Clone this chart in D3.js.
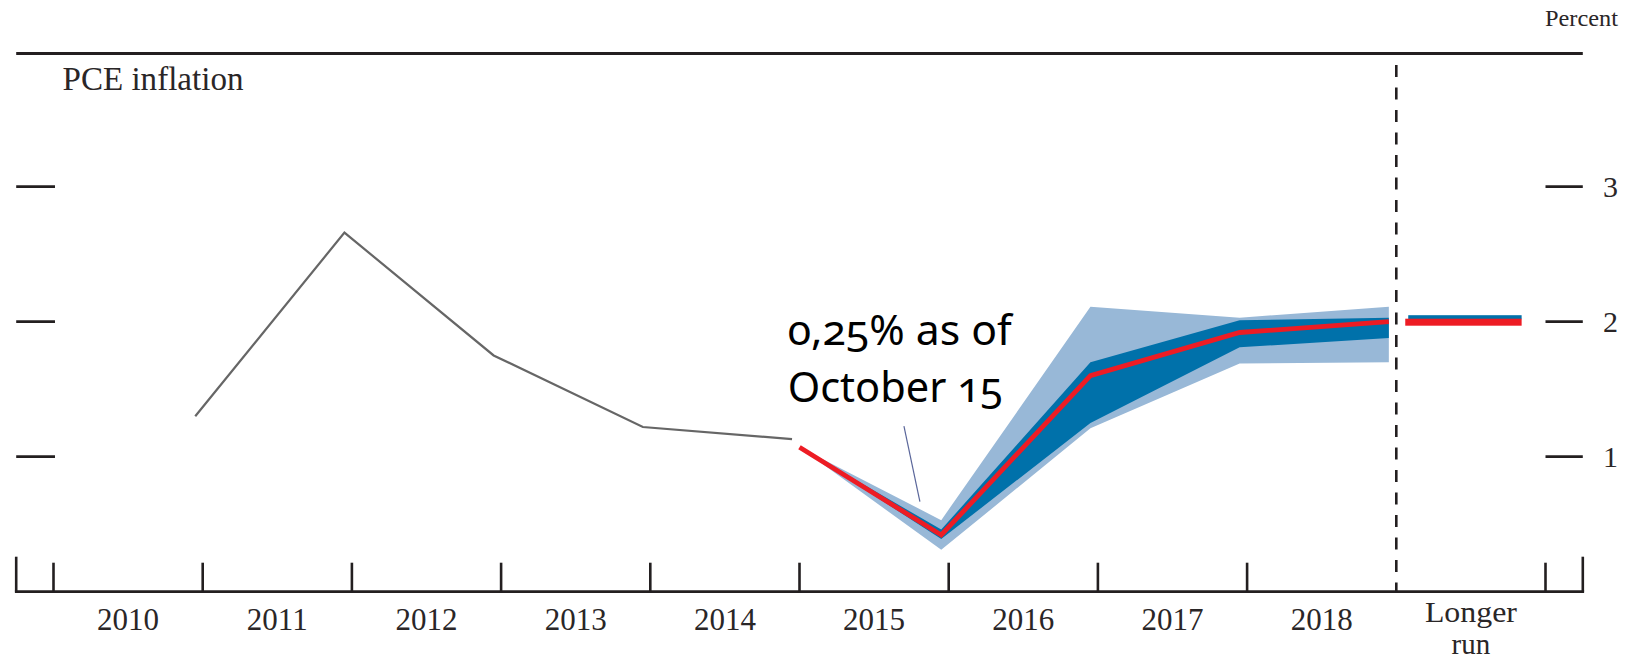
<!DOCTYPE html>
<meta charset="utf-8">
<style>
body { margin: 0; background: #fff; }
svg { display: block; }
.serif { font-family: "Liberation Serif", "DejaVu Serif", serif; fill: #2a2627; }
.note { font-family: "Noto Sans", "Open Sans", sans-serif; fill: #000; font-variant-numeric: oldstyle-nums; }
</style>
<body>
<svg width="1626" height="661"></svg>
</body>
<script src="https://cdn.jsdelivr.net/npm/d3@7"></script>
<script>

// history (Q4/Q4 PCE inflation), black line
var histYears = [2010, 2011, 2012, 2013, 2014];
var histValues = [1.30, 2.66, 1.75, 1.22, 1.13];

// projections: median, central tendency, range
var projYears = [2015, 2016, 2017, 2018];
var projStart = 1.07;          // value where the projection path starts (start of 2015)
var median = [0.42, 1.60, 1.92, 2.00];
var ctLow = [0.39, 1.25, 1.81, 1.88];
var ctHigh = [0.46, 1.70, 2.01, 2.03];
var rangeLow = [0.31, 1.21, 1.69, 1.70];
var rangeHigh = [0.53, 2.11, 2.03, 2.11];

// longer run
var longerRunMedian = 2.0;
var longerRunCT = 2.0;

var yearLabels = ["2010", "2011", "2012", "2013", "2014", "2015", "2016", "2017", "2018"];
var yTicks = [1, 2, 3];

var svg = d3.select("svg");

var x = d3.scaleLinear().domain([2010, 2020]).range([53.5, 1545.5]);
var y = d3.scaleLinear().domain([0, 4]).range([591.7, 51.7]);

var dataPos = 0.95;  // points sit at the last quarter of each year
var xStart = 2009.75, xEnd = 2020.25;
var ink = "#231f20";

// ---- fan chart ----
var bandYears = [2015].concat(projYears.map(function(d) { return d + dataPos; }));
function band(lo, hi) {
  return bandYears.map(function(yr, i) {
    return i == 0 ? {x: yr, lo: projStart, hi: projStart} : {x: yr, lo: lo[i - 1], hi: hi[i - 1]};
  });
}
var area = d3.area()
    .x(function(d) { return x(d.x); })
    .y0(function(d) { return y(d.lo); })
    .y1(function(d) { return y(d.hi); });

svg.append("path").datum(band(rangeLow, rangeHigh))
    .attr("d", area).attr("fill", "#98b8d7");
svg.append("path").datum(band(ctLow, ctHigh))
    .attr("d", area).attr("fill", "#0071aa");

var line = d3.line()
    .x(function(d) { return x(d[0]); })
    .y(function(d) { return y(d[1]); });

// history line
svg.append("path")
    .datum(histYears.map(function(d, i) { return [d + dataPos, histValues[i]]; }))
    .attr("d", line)
    .attr("fill", "none").attr("stroke", "#666").attr("stroke-width", 2.2);

// median projection
svg.append("path")
    .datum([[2015, projStart]].concat(projYears.map(function(d, i) { return [d + dataPos, median[i]]; })))
    .attr("d", line)
    .attr("fill", "none").attr("stroke", "#ed1c24").attr("stroke-width", 4.8)
    .attr("stroke-linejoin", "miter");

// longer run bars
svg.append("rect")
    .attr("x", x(2019.08)).attr("width", x(2019.84) - x(2019.08))
    .attr("y", y(longerRunCT) - 6.5).attr("height", 4)
    .attr("fill", "#0071aa");
svg.append("rect")
    .attr("x", x(2019.06)).attr("width", x(2019.84) - x(2019.06))
    .attr("y", y(longerRunMedian) - 3).attr("height", 7)
    .attr("fill", "#ed1c24");

// ---- frame & axes ----
svg.append("line")
    .attr("x1", x(xStart)).attr("x2", x(xEnd))
    .attr("y1", y(4) + 1.8).attr("y2", y(4) + 1.8)
    .attr("stroke", ink).attr("stroke-width", 3);

svg.append("line")
    .attr("x1", x(xStart) - 1.3).attr("x2", x(xEnd) + 1.3)
    .attr("y1", y(0)).attr("y2", y(0))
    .attr("stroke", ink).attr("stroke-width", 2.8);

// year ticks (2019 is the dashed divider)
var tickYears = d3.range(2010, 2021).filter(function(d) { return d != 2019; });
svg.selectAll(".xt").data(tickYears).enter().append("line")
    .attr("x1", function(d) { return x(d); }).attr("x2", function(d) { return x(d); })
    .attr("y1", y(0)).attr("y2", y(0) - 29)
    .attr("stroke", ink).attr("stroke-width", 2.6);
svg.selectAll(".xe").data([xStart, xEnd]).enter().append("line")
    .attr("x1", function(d) { return x(d); }).attr("x2", function(d) { return x(d); })
    .attr("y1", y(0)).attr("y2", y(0) - 35)
    .attr("stroke", ink).attr("stroke-width", 2.6);

// dashed divider before longer run
svg.append("line")
    .attr("x1", x(2019)).attr("x2", x(2019))
    .attr("y1", 65).attr("y2", y(0))
    .attr("stroke", ink).attr("stroke-width", 2.6)
    .attr("stroke-dasharray", "12,10.5");

// y ticks both sides
svg.selectAll(".yl").data(yTicks).enter().append("line")
    .attr("x1", x(xStart)).attr("x2", x(2010.01))
    .attr("y1", function(d) { return y(d); }).attr("y2", function(d) { return y(d); })
    .attr("stroke", ink).attr("stroke-width", 2.8);
svg.selectAll(".yr").data(yTicks).enter().append("line")
    .attr("x1", x(2020)).attr("x2", x(xEnd))
    .attr("y1", function(d) { return y(d); }).attr("y2", function(d) { return y(d); })
    .attr("stroke", ink).attr("stroke-width", 2.8);

svg.selectAll(".ytxt").data(yTicks).enter().append("text")
    .attr("class", "serif")
    .attr("x", 1603).attr("y", function(d) { return y(d) + 10; })
    .style("font-size", "30px")
    .text(function(d) { return d; });

svg.append("text").attr("class", "serif")
    .attr("x", 1545).attr("y", 26)
    .style("font-size", "23px")
    .attr("textLength", 73).attr("lengthAdjust", "spacingAndGlyphs")
    .text("Percent");

svg.append("text").attr("class", "serif")
    .attr("x", 62.5).attr("y", 90)
    .style("font-size", "33px")
    .attr("textLength", 181).attr("lengthAdjust", "spacingAndGlyphs")
    .text("PCE inflation");

// year labels
svg.selectAll(".yrtxt").data(yearLabels).enter().append("text")
    .attr("class", "serif")
    .attr("x", function(d) { return x(+d + 0.5); })
    .attr("y", 630)
    .attr("text-anchor", "middle")
    .style("font-size", "31px")
    .text(function(d) { return d; });

var lr = svg.append("text").attr("class", "serif")
    .attr("text-anchor", "middle")
    .style("font-size", "29px");
lr.append("tspan").attr("x", x(2019.5)).attr("y", 622)
    .attr("textLength", 92).attr("lengthAdjust", "spacingAndGlyphs").text("Longer");
lr.append("tspan").attr("x", x(2019.5)).attr("y", 654).text("run");

// annotation
var noteAt = [2014.921, 1.827];
var note = svg.append("text").attr("class", "note").style("font-size", "41px");
note.append("tspan").attr("x", x(noteAt[0])).attr("y", y(noteAt[1]))
    .attr("textLength", 224).attr("lengthAdjust", "spacingAndGlyphs")
    .text("0,25% as of");
note.append("tspan").attr("x", x(noteAt[0])).attr("y", y(noteAt[1]) + 57)
    .attr("textLength", 215).attr("lengthAdjust", "spacingAndGlyphs")
    .text("October 15");

var pointer = [[2015.70, 1.227], [2015.807, 0.667]];
svg.append("path").datum(pointer)
    .attr("d", line)
    .attr("stroke", "#5a669a").attr("stroke-width", 1.2).attr("fill", "none");

</script>
